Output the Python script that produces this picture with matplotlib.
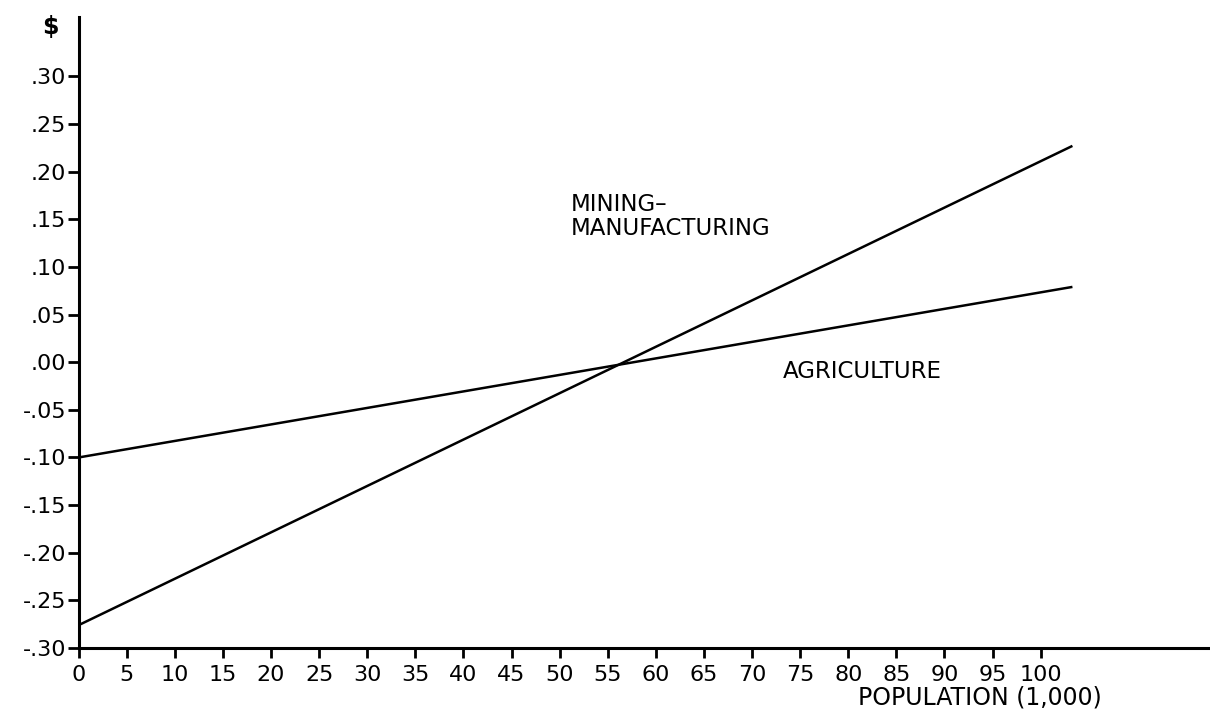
import matplotlib
matplotlib.use('Agg')
import matplotlib.pyplot as plt

# population in thousands, line end points
pop = [0, 103.3]
agriculture = [-0.100, 0.079]
mining_mfg = [-0.276, 0.227]

yticks = [-0.30, -0.25, -0.20, -0.15, -0.10, -0.05, 0.00, 0.05, 0.10, 0.15, 0.20, 0.25, 0.30]
ytick_labels = ['-.30', '-.25', '-.20', '-.15', '-.10', '-.05', '.00',
                '.05', '.10', '.15', '.20', '.25', '.30']
xticks = list(range(0, 101, 5))
xtick_labels = [str(v) for v in xticks]

plt.rcParams['font.family'] = 'DejaVu Sans'

fig = plt.figure(figsize=(12.1, 7.2), dpi=100)
ax = fig.add_axes([0.065, 0.1, 0.935, 0.876])

ax.plot(pop, agriculture, color='black', lw=1.8, solid_capstyle='butt')
ax.plot(pop, mining_mfg, color='black', lw=1.8, solid_capstyle='butt')

ax.set_xlim(0, 117.6)
ax.set_ylim(-0.30, 0.362)

for s in ['top', 'right']:
    ax.spines[s].set_visible(False)
for s in ['left', 'bottom']:
    ax.spines[s].set_linewidth(2.2)

ax.set_xticks(xticks)
ax.set_xticklabels(xtick_labels, fontsize=16)
ax.set_yticks(yticks)
ax.set_yticklabels(ytick_labels, fontsize=16)
ax.tick_params(axis='x', length=7, width=2, pad=5)
ax.tick_params(axis='y', length=8, width=2, pad=1)

ax.text(51.2, 0.153, 'MINING\u2013\nMANUFACTURING', fontsize=16.5, ha='left', va='center',
        linespacing=1.05)
ax.text(73.2, -0.010, 'AGRICULTURE', fontsize=16.5, ha='left', va='center')

fig.text(0.81, 0.031, 'POPULATION (1,000)', fontsize=17, ha='center', va='center')
fig.text(0.042, 0.962, '$', fontsize=17, fontweight='bold', ha='center', va='center')

fig.savefig('out.png', dpi=100)
